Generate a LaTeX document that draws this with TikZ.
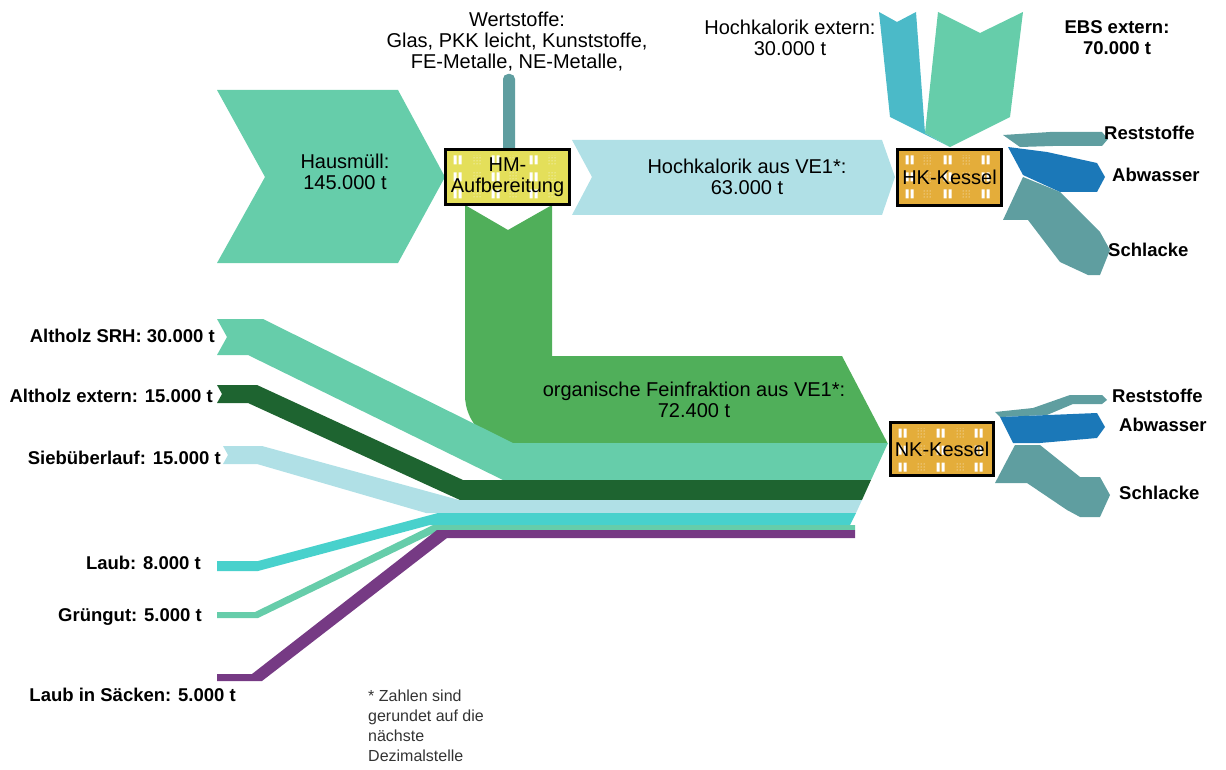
\documentclass[tikz,border=0pt]{standalone}
\usepackage{fontspec}
\setmainfont{Liberation Sans}
\usetikzlibrary{calc,patterns}
\definecolor{aqua}{HTML}{66CDAA}
\definecolor{puderblau}{HTML}{B0E0E6}
\definecolor{kadett}{HTML}{5F9EA0}
\definecolor{hkblau}{HTML}{4BBAC8}
\definecolor{orggruen}{HTML}{50AF5A}
\definecolor{dunkelgruen}{HTML}{1E6430}
\definecolor{tuerkis}{HTML}{48D1CC}
\definecolor{lila}{HTML}{763A84}
\definecolor{abwblau}{HTML}{1B78B8}
\definecolor{hmgelb}{HTML}{E4DF5A}
\definecolor{kessel}{HTML}{E4AD3A}

\begin{document}
\begin{tikzpicture}[x=1pt,y=-1pt,
	lbl/.style={font=\fontsize{20}{21}\selectfont,align=center,inner sep=0pt},
	blbl/.style={font=\fontsize{18.5}{21}\selectfont\bfseries,align=center,inner sep=0pt},
	box/.style={draw=black,line width=3pt,inner sep=0pt,font=\fontsize{20}{21}\selectfont,align=center,
		path picture={
			\foreach \i in {0,...,5} \foreach \r in {6,23,40} {
				\ifodd\i
					\fill[pattern=dots,pattern color=white] ($(path picture bounding box.north west)+(7+\i*19,\r)$) rectangle ++(9,9);
				\else
					\fill[white] ($(path picture bounding box.north west)+(8+\i*19,\r)$) rectangle ++(3,9)
						($(path picture bounding box.north west)+(13+\i*19,\r)$) rectangle ++(3,9);
				\fi
			}}}]
	\useasboundingbox (0,0) rectangle (1226,770);

	\fill[aqua] (217,90) -- (398,90) -- (445,177) -- (398,263) -- (217,263) -- (265,177) -- cycle;
	\fill[kadett,rounded corners=5] (503,150) -- (503,74) -- (515,74) -- (515,150);
	\fill[puderblau] (572,140) -- (882,140) -- (895,177) -- (882,215) -- (572,215) -- (592,177) -- cycle;
	\fill[hkblau] (879,12) -- (897,22) -- (916,12) -- (925,133) -- (950,147) -- (890,117) -- cycle;
	\fill[aqua] (938,12) -- (980,33) -- (1023,12) -- (1010,117) -- (950,147) -- (925,133) -- cycle;

	\fill[kadett] (1003,135) -- (1050,132) -- (1102,132) -- (1108,139) -- (1102,146) -- (1053,146) -- (1020,147) -- cycle;
	\fill[abwblau] (1008,147) -- (1047,152) -- (1097,163) -- (1105,177) -- (1097,192) -- (1060,192) -- (1023,175) -- cycle;
	\fill[kadett] (1023,177) -- (1060,192) -- (1100,232) -- (1110,250) -- (1100,275) -- (1088,275) -- (1060,262) -- (1028,220) -- (1003,220) -- cycle;

	\fill[orggruen] (465,205) -- (508,230) -- (552,205) -- (552,356) -- (842,356) -- (888,444) -- (513,444)
		.. controls (486,444) and (465,422) .. (465,395) -- cycle;
	\fill[aqua] (217,319) -- (263,319) -- (513,443) -- (888,443) -- (871,480) -- (503,480) -- (248,355) -- (217,355) -- (227,337) -- cycle;
	\fill[dunkelgruen] (217,385) -- (257,385) -- (463,480) -- (871,480) -- (862,500) -- (460,500) -- (248,403) -- (217,403) -- (222,394) -- cycle;
	\fill[puderblau] (223,446) -- (262,446) -- (459,500) -- (862,500) -- (856,513) -- (426,513) -- (257,464) -- (223,464) -- (228,455) -- cycle;
	\fill[tuerkis] (217,561) -- (258,561) -- (438,513) -- (856,513) -- (850,525) -- (430,525) -- (258,571) -- (217,571) -- cycle;
	\fill[aqua] (217,612) -- (255,612) -- (433,525) -- (855,525) -- (855,530) -- (440,530) -- (258,618) -- (217,618) -- cycle;
	\fill[lila] (217,674) -- (252,674) -- (437,530) -- (855,530) -- (855,538) -- (447,538) -- (262,681) -- (217,681) -- cycle;

	\fill[kadett] (995,412) -- (1033,408) -- (1070,395) -- (1102,395) -- (1107,400) -- (1102,404) -- (1073,404) -- (1047,415) -- (1000,417) -- cycle;
	\fill[abwblau] (1000,417) -- (1097,413) -- (1105,427) -- (1097,438) -- (1040,443) -- (1013,443) -- cycle;
	\fill[kadett] (1015,445) -- (1040,445) -- (1080,477) -- (1100,477) -- (1110,495) -- (1100,517) -- (1080,517) -- (1067,510) -- (1027,483) -- (995,483) -- cycle;

	\node[box,fill=hmgelb,minimum width=124pt,minimum height=55pt] (hm) at (507.5,177) {HM-\\Aufbereitung};
	\node[box,fill=kessel,minimum width=104pt,minimum height=56pt] (hk) at (949.5,177.5) {HK-Kessel};
	\node[box,fill=kessel,minimum width=103pt,minimum height=53pt] (nk) at (942,449) {NK-Kessel};

	\node[lbl] (wertstoffe) at (517,42) {Wertstoffe:\\Glas, PKK leicht, Kunststoffe,\\FE-Metalle, NE-Metalle,};
	\node[lbl] (hausmuell) at (345,172) {Hausmüll:\\145.000 t};
	\node[lbl] (hkve) at (747,177) {Hochkalorik aus VE1*:\\63.000 t};
	\node[lbl] (hkextern) at (790,38) {Hochkalorik extern:\\30.000 t};
	\node[blbl] (ebs) at (1117,38) {EBS extern:\\70.000 t};
	\node[lbl] (orgfein) at (694,400) {organische Feinfraktion aus VE1*:\\72.400 t};

	\node[blbl,anchor=west] (hkrest) at (1104,133) {Reststoffe};
	\node[blbl,anchor=west] (hkabw) at (1112,175) {Abwasser};
	\node[blbl,anchor=west] (hkschl) at (1108,250) {Schlacke};
	\node[blbl,anchor=west] (nkrest) at (1112,396) {Reststoffe};
	\node[blbl,anchor=west] (nkabw) at (1119,425) {Abwasser};
	\node[blbl,anchor=west] (nkschl) at (1119,493) {Schlacke};

	\node[blbl,anchor=east] (srh) at (215,336) {Altholz SRH: 30.000 t};
	\node[blbl,anchor=east] (altext) at (213,396) {Altholz extern: 15.000 t};
	\node[blbl,anchor=east] (sieb) at (221,458) {Siebüberlauf: 15.000 t};
	\node[blbl,anchor=east] (laub) at (201,563) {Laub: 8.000 t};
	\node[blbl,anchor=east] (gruen) at (202,617) {Grüngut: 5.000 t};
	\node[blbl,anchor=east] (saecke) at (236,695) {Laub in Säcken: 5.000 t};

	\node[anchor=north west,align=left,inner sep=0pt,text=black!80,font=\fontsize{16}{20}\selectfont] (fussnote) at (368,690)
		{* Zahlen sind\\gerundet auf die\\nächste\\Dezimalstelle};
\end{tikzpicture}
\end{document}
